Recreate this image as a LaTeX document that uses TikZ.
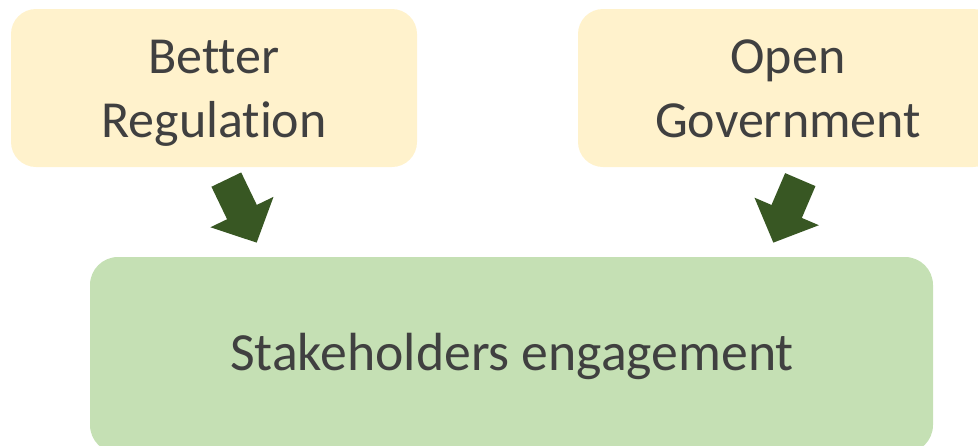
\documentclass[tikz,border=0pt]{standalone}
\usepackage{fontspec}
\setmainfont{Carlito}[Ligatures=NoCommon]
\usetikzlibrary{arrows.meta}
\definecolor{topfill}{HTML}{FFF2CC}
\definecolor{basefill}{HTML}{C5E0B4}
\definecolor{arrowgreen}{HTML}{385723}
\definecolor{textgray}{HTML}{404040}
\begin{document}
\begin{tikzpicture}[x=1pt,y=-1pt,
  box/.style={rectangle, rounded corners=25pt, inner sep=0pt},
  topbox/.style={box, fill=topfill, minimum height=158pt},
  basebox/.style={box, fill=basefill, rounded corners=28pt,
    minimum width=843pt, minimum height=196pt},
  label/.style={anchor=base, inner sep=0pt, text=textgray, align=center,
    font=\fontsize{52}{64}\selectfont},
  blockarrow/.style={draw=arrowgreen, line width=33pt, line cap=butt,
    -{Triangle[length=34pt, width=68pt, fill=arrowgreen]}}]
  \useasboundingbox (0,0) rectangle (978,445);
  \clip (0,0) rectangle (978,445);
  % input boxes
  \node[topbox, minimum width=406pt] (reg) at (214,88) {};
  \node[topbox, minimum width=420pt] (gov) at (788,88) {};
  % outcome box
  \node[basebox] (eng) at (511.5,355) {};
  % box texts (base anchor sits on the last line)
  \node[label] (regtext) at (214,137.3) {Better\\Regulation};
  \node[label] (govtext) at (788,137.3) {Open\\Government};
  \node[label, font=\fontsize{53.7}{64}\selectfont] (engtext) at (512,370) {Stakeholders engagement};
  % block arrows from the input boxes down into the outcome box
  \coordinate (regout) at (226.3,179.6);
  \coordinate (regin) at (256.7,242.7);
  \coordinate (govout) at (800.3,179.6);
  \coordinate (govin) at (773.3,242.7);
  \draw[blockarrow] (regout) -- (regin);
  \draw[blockarrow] (govout) -- (govin);
\end{tikzpicture}
\end{document}
